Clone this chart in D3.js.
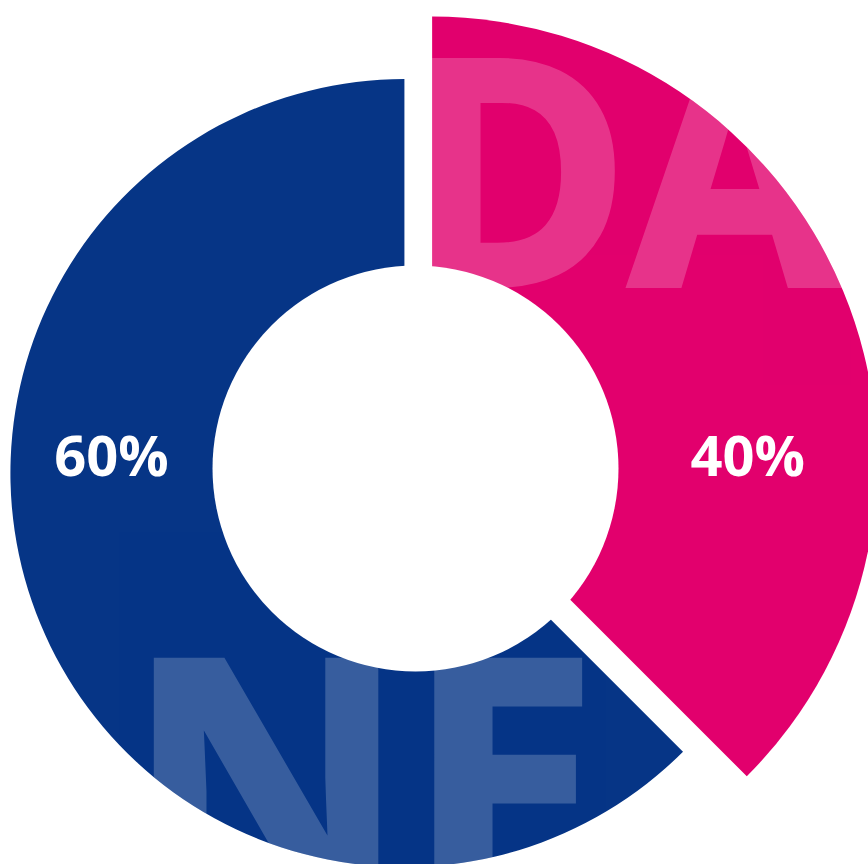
<!DOCTYPE html>
<html>
<head>
<meta charset="utf-8">
<script src="https://cdn.jsdelivr.net/npm/d3@7"></script>
<style>
  html, body { margin: 0; padding: 0; background: #ffffff; }
  svg { display: block; }
</style>
</head>
<body>
<svg id="chart" width="868" height="864"></svg>
<script>
// ---- data ----
const categories = ["DA", "NE"];
// slice shares as drawn in the picture (angles of the wedges)
const sliceShares = [37.5, 62.5];
// percentage labels printed on the slices
const valueLabels = ["40%", "60%"];
const colors = ["#E2006D", "#063586"];

// ---- layout ----
const W = 868, H = 864;
const cx = 415.5, cy = 468.5;
const holeR = 203;
const outerR = [445, 394];
const explode = [18, 12];
const bigFont = [314, 345];
const bigScaleX = [0.97, 1];
// watermark text anchor relative to slice centre
const bigDx = [-28, -278.6];
const bigDy = [-176.5, 434];

const svg = d3.select("#chart");
svg.append("rect").attr("width", W).attr("height", H).attr("fill", "#ffffff");

const pie = d3.pie().sort(null).value(d => d.v).startAngle(0).endAngle(2 * Math.PI);
const arcsData = pie(categories.map((c, i) => ({ c, v: sliceShares[i], i })));

const defs = svg.append("defs");
const g = svg.append("g");

arcsData.forEach((a, i) => {
  const mid = (a.startAngle + a.endAngle) / 2;
  const ox = cx + Math.sin(mid) * explode[i];
  const oy = cy - Math.cos(mid) * explode[i];
  const arc = d3.arc().innerRadius(0).outerRadius(outerR[i]);
  const path = arc(a);

  defs.append("clipPath").attr("id", "clip" + i)
    .append("path").attr("d", path)
    .attr("transform", `translate(${ox},${oy})`);

  g.append("path").attr("d", path)
    .attr("transform", `translate(${ox},${oy})`)
    .attr("fill", colors[i]);

  // large watermark letters, clipped to slice
  const sg = g.append("g").attr("clip-path", `url(#clip${i})`);
  sg.append("text")
    .attr("transform", `translate(${ox + bigDx[i]},${oy + bigDy[i]}) scale(${bigScaleX[i]},1)`)
    .attr("font-family", "'Open Sans', sans-serif")
    .attr("font-weight", 700)
    .attr("font-size", bigFont[i])
    .attr("fill", "#ffffff")
    .attr("stroke", "#ffffff")
    .attr("stroke-width", 6)
    .attr("stroke-linejoin", "miter")
    .attr("opacity", 0.2)
    .text(a.data.c);
});

// white hole
g.append("circle").attr("cx", cx).attr("cy", cy).attr("r", holeR).attr("fill", "#ffffff");

// percentage labels, at the middle of the ring on the horizontal through the centre
arcsData.forEach((a, i) => {
  const mid = (a.startAngle + a.endAngle) / 2;
  const ox = cx + Math.sin(mid) * explode[i];
  const side = Math.sin(mid) >= 0 ? 1 : -1;
  const lx = side > 0
    ? ((cx + holeR) + (ox + outerR[i])) / 2
    : ((cx - holeR) + (ox - outerR[i])) / 2;
  g.append("text")
    .attr("x", lx)
    .attr("y", cy + 7.5)
    .attr("text-anchor", "middle")
    .attr("font-family", "'Open Sans', sans-serif")
    .attr("font-weight", 700)
    .attr("font-size", 56)
    .attr("fill", "#ffffff")
    .text(valueLabels[i]);
});
</script>
</body>
</html>
